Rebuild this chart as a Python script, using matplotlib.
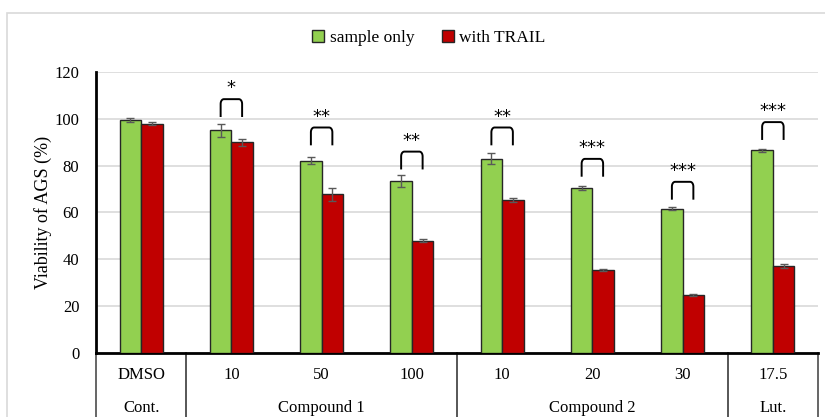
import matplotlib.pyplot as plt
import numpy as np
from matplotlib.patches import Rectangle

plt.rcParams['font.family'] = ['Liberation Serif', 'DejaVu Serif']

# data
doses = ['DMSO', '10', '50', '100', '10', '20', '30', '17.5']
groups = ['Cont.', 'Compound 1', 'Compound 2', 'Lut.']
group_span = [(0, 0), (1, 3), (4, 6), (7, 7)]
sample_only = [99.6, 95.1, 82.0, 73.4, 83.0, 70.5, 61.7, 86.5]
sample_err = [0.8, 2.8, 1.5, 2.5, 2.5, 0.7, 0.7, 0.8]
with_trail = [97.9, 89.9, 67.7, 48.0, 65.4, 35.5, 24.8, 37.2]
trail_err = [0.6, 1.5, 2.8, 0.8, 0.8, 0.5, 0.5, 0.8]
stars = ['*', '**', '**', '**', '***', '***', '***']
bracket_top = [108.4, 96.3, 86.0, 96.3, 82.9, 73.1, 98.6]

fig = plt.figure(figsize=(8.25, 4.17), dpi=100)
ax = fig.add_axes([96/825, 1-353/417, 722/825, 281/417])

# light chart border
fig.patches.append(Rectangle((7/825, -0.1), 1.0, 1.1 - 13/417, transform=fig.transFigure,
                             fill=False, edgecolor='#d9d9d9', linewidth=1.2, zorder=0))

x = np.arange(len(doses))
w = 0.238
ax.bar(x - w/2, sample_only, w, color='#92D050', edgecolor='#262626', linewidth=1.0,
       label='sample only', zorder=3)
ax.bar(x + w/2, with_trail, w, color='#C00000', edgecolor='#262626', linewidth=1.0,
       label='with TRAIL', zorder=3)
ax.errorbar(x - w/2, sample_only, yerr=sample_err, fmt='none', ecolor='#595959',
            elinewidth=1.0, capsize=3, capthick=1.0, zorder=4)
ax.errorbar(x + w/2, with_trail, yerr=trail_err, fmt='none', ecolor='#595959',
            elinewidth=1.0, capsize=3, capthick=1.0, zorder=4)

# significance brackets with rounded corners
t = np.linspace(0, np.pi / 2, 8)
rx, ry = 0.035, 2.0
for i, (s, top) in enumerate(zip(stars, bracket_top)):
    xi = x[i + 1]
    x0, x1 = xi - w/2, xi + w/2
    h = 7.2
    lx = x0 + rx - rx * np.cos(t)
    ly = top - ry + ry * np.sin(t)
    bx = np.concatenate([[x0], lx, (x1 - rx + rx * np.cos(t))[::-1][::-1][::-1], [x1]])
    rcx = x1 - rx + rx * np.sin(t)
    rcy = top - ry + ry * np.cos(t)
    bx = np.concatenate([[x0], lx, rcx, [x1]])
    by = np.concatenate([[top - h], ly, rcy, [top - h]])
    ax.plot(bx, by, color='black', linewidth=1.4, zorder=5)
    ax.text(xi, top + 0.8, s, ha='center', va='bottom', fontsize=13,
            family='DejaVu Sans', zorder=5)

ax.set_xlim(-0.5, len(doses) - 0.5)
ax.set_ylim(0, 120)
ax.set_yticks(np.arange(0, 121, 20))
ax.tick_params(axis='y', length=0, labelsize=12, pad=12)
ax.set_xticks([])
ax.grid(axis='y', color='#d9d9d9', linewidth=1.2, zorder=0)
ax.set_axisbelow(True)
for sp in ['top', 'right']:
    ax.spines[sp].set_visible(False)
ax.spines['left'].set_linewidth(2)
ax.spines['bottom'].set_linewidth(2)
ax.set_ylabel('Viability of AGS (%)', fontsize=13, labelpad=2)

# two level category axis
trans = ax.get_xaxis_transform()
for i, d in enumerate(doses):
    ax.text(x[i], -0.08, d, transform=trans, ha='center', va='center',
            fontsize=12, clip_on=False)
for g, (a, b) in zip(groups, group_span):
    ax.text((a + b) / 2, -0.195, g, transform=trans, ha='center', va='center',
            fontsize=12, clip_on=False)
    for edge in (a - 0.5, b + 0.5):
        ax.plot([edge, edge], [0, -0.25], transform=trans, color='#595959',
                linewidth=1.3, clip_on=False)

fig.legend(loc='center', bbox_to_anchor=(0.52, 1 - 38/417), ncol=2, frameon=False,
           fontsize=12.5, handlelength=0.7, handleheight=0.7, handletextpad=0.3,
           columnspacing=1.6)

fig.savefig('out.png', dpi=100)
